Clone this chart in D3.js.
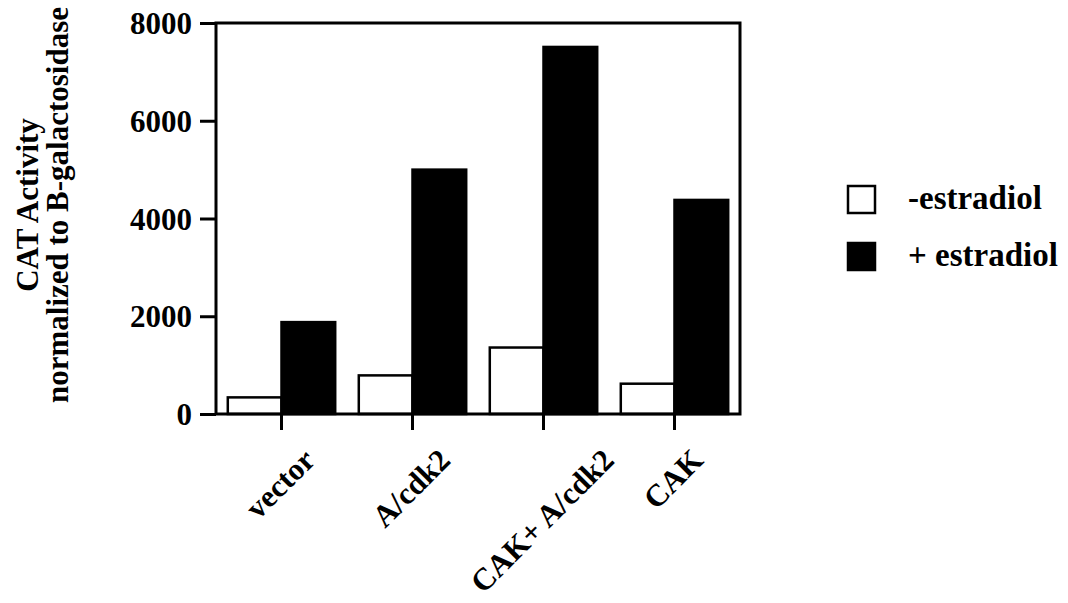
<!DOCTYPE html>
<html>
<head>
<meta charset="utf-8">
<script src="https://cdn.jsdelivr.net/npm/d3@7"></script>
<style>
  html, body { margin: 0; padding: 0; background: #fff; }
  svg { display: block; }
  text { font-family: "Liberation Serif", "Times New Roman", serif; font-weight: 700; fill: #000; }
</style>
</head>
<body>
<svg id="chart" width="1068" height="603"></svg>
<script>
// ── Data ──────────────────────────────────────────────────────────────────────
const CATEGORIES = ['vector', 'A/cdk2', 'CAK+ A/cdk2', 'CAK'];
const NO_E2      = [340, 790, 1360, 620];      // -estradiol
const WITH_E2    = [1880, 5000, 7510, 4380];   // + estradiol
const Y_TICKS    = [0, 2000, 4000, 6000, 8000];
const SERIES     = ['-estradiol', '+ estradiol'];
const FILLS      = ['#fff', '#000'];

// ── Layout ────────────────────────────────────────────────────────────────────
const svg = d3.select('#chart');
const box = { left: 216, right: 740, top: 23, bottom: 414 };

const x = d3.scaleBand()
    .domain(CATEGORIES)
    .range([box.left, box.right])
    .paddingInner(0.18)
    .paddingOuter(0.09);

const sub = d3.scaleBand()
    .domain(SERIES)
    .range([0, x.bandwidth()]);

const y = d3.scaleLinear()
    .domain([0, 8000])
    .range([box.bottom, box.top]);

const rows = CATEGORIES.map((c, i) => ({ cat: c, vals: [NO_E2[i], WITH_E2[i]] }));

// Bars
const groups = svg.selectAll('g.grp')
    .data(rows)
    .join('g')
    .attr('class', 'grp')
    .attr('transform', d => `translate(${x(d.cat)},0)`);

groups.selectAll('rect')
    .data(d => d.vals.map((v, j) => ({ v, s: SERIES[j], fill: FILLS[j] })))
    .join('rect')
    .attr('x', d => sub(d.s))
    .attr('y', d => y(d.v))
    .attr('width', sub.bandwidth())
    .attr('height', d => y(0) - y(d.v))
    .attr('fill', d => d.fill)
    .attr('stroke', '#000')
    .attr('stroke-width', 2.5);

// Frame
svg.append('rect')
    .attr('x', box.left).attr('y', box.top)
    .attr('width', box.right - box.left)
    .attr('height', box.bottom - box.top)
    .attr('fill', 'none')
    .attr('stroke', '#000')
    .attr('stroke-width', 3);

// Y axis
const yAxis = svg.append('g')
    .attr('transform', `translate(${box.left},0)`)
    .call(d3.axisLeft(y).tickValues(Y_TICKS).tickSize(16).tickPadding(8).tickFormat(d3.format('d')));
yAxis.select('.domain').remove();
yAxis.selectAll('line').attr('stroke', '#000').attr('stroke-width', 3);
yAxis.selectAll('text')
    .attr('font-size', 31)
    .attr('font-family', '"Liberation Serif", serif')
    .attr('font-weight', 700)
    .attr('dy', '0.34em');

// X axis ticks at the band centres
const xAxis = svg.append('g')
    .attr('transform', `translate(0,${box.bottom})`)
    .call(d3.axisBottom(x).tickSize(16).tickFormat(''));
xAxis.select('.domain').remove();
xAxis.selectAll('line').attr('stroke', '#000').attr('stroke-width', 3);

// Rotated category labels, ends on a common line
const lbl = svg.selectAll('text.cat')
    .data(CATEGORIES)
    .join('text')
    .attr('class', 'cat')
    .attr('font-size', 31)
    .attr('text-anchor', 'middle')
    .text(d => d);
lbl.attr('transform', function(d) {
    const w = this.getComputedTextLength();
    const cx = x(d) + x.bandwidth() / 2 + 6;
    const cy = 462 + (w / 2) * Math.SQRT1_2;
    return `translate(${cx},${cy}) rotate(-45)`;
});

// Y title
const title = svg.append('text')
    .attr('transform', 'translate(0,205) rotate(-90)')
    .attr('text-anchor', 'middle')
    .attr('font-size', 31);
title.append('tspan').attr('x', 0).attr('y', 38).text('CAT Activity');
title.append('tspan').attr('x', 0).attr('y', 68).text('normalized to B-galactosidase');

// Legend
const legend = svg.selectAll('g.leg')
    .data(SERIES)
    .join('g')
    .attr('class', 'leg')
    .attr('transform', (d, i) => `translate(848,${186 + i * 57})`);
legend.append('rect')
    .attr('width', 27).attr('height', 27)
    .attr('fill', (d, i) => FILLS[i])
    .attr('stroke', '#000')
    .attr('stroke-width', 2.5);
legend.append('text')
    .attr('x', 60).attr('y', 23)
    .attr('font-size', 33)
    .text(d => d);
</script>
</body>
</html>
